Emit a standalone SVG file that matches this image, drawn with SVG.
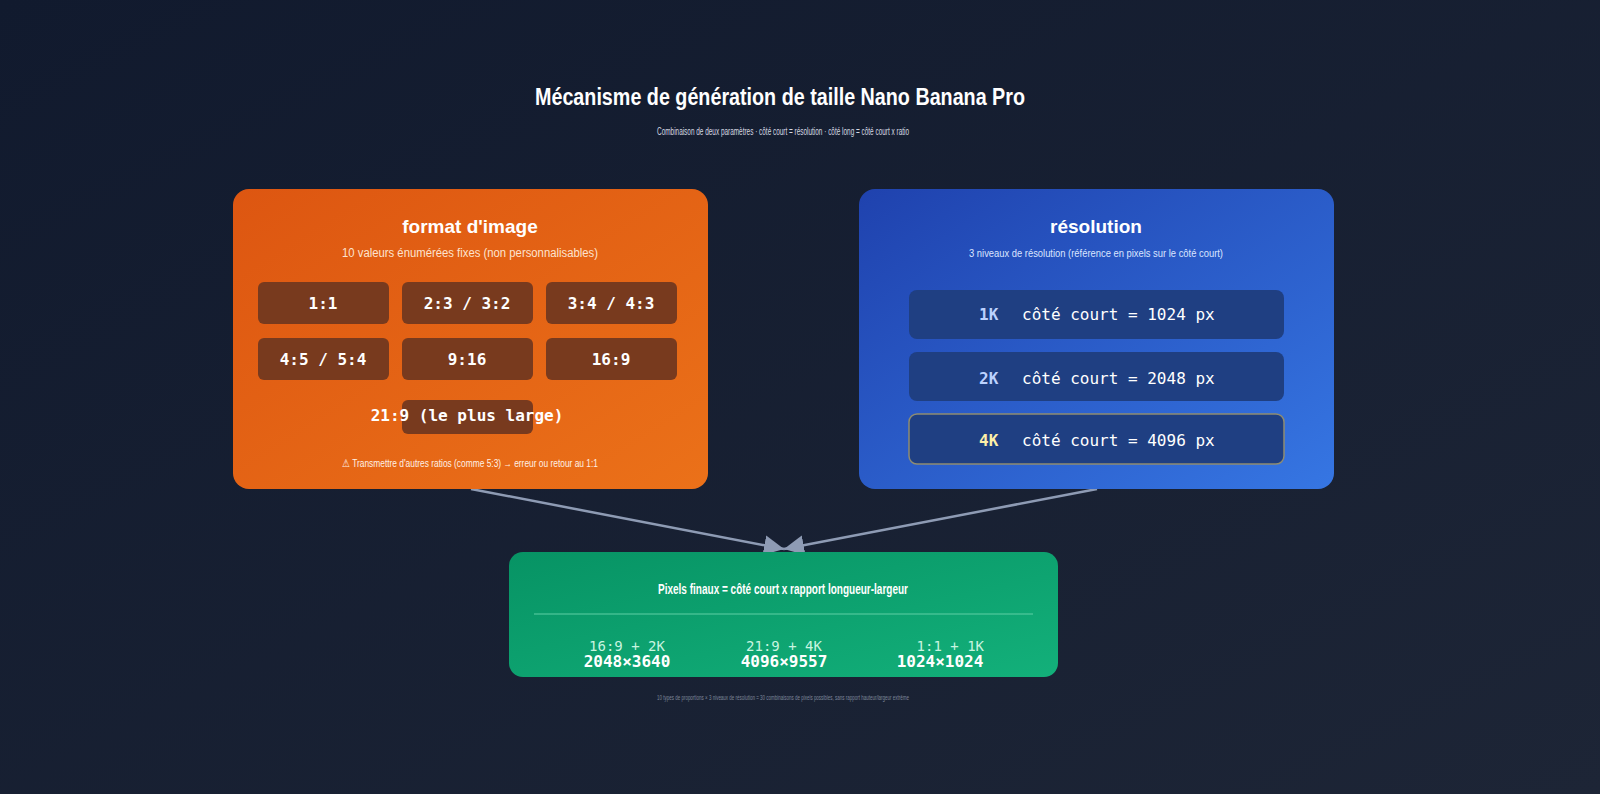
<svg xmlns="http://www.w3.org/2000/svg" width="1600" height="794" viewBox="0 0 1600 794">
<defs>
<linearGradient id="bg" x1="0" y1="0" x2="1" y2="1"><stop offset="0" stop-color="#111a2e"/><stop offset="1" stop-color="#1d2536"/></linearGradient>
<linearGradient id="og" x1="0" y1="0" x2="1" y2="1"><stop offset="0" stop-color="#dd5611"/><stop offset="1" stop-color="#eb7119"/></linearGradient>
<linearGradient id="bl" x1="0" y1="0" x2="1" y2="1"><stop offset="0" stop-color="#1f42ae"/><stop offset="1" stop-color="#3676e3"/></linearGradient>
<linearGradient id="gr" x1="0" y1="0" x2="1" y2="1"><stop offset="0" stop-color="#079364"/><stop offset="1" stop-color="#13b07a"/></linearGradient>
<marker id="ah" viewBox="0 0 10 10" refX="10" refY="5" markerWidth="8" markerHeight="8" orient="auto" markerUnits="strokeWidth"><path d="M0,0 L10,5 L0,10 z" fill="#8e9bb4"/></marker>
<style>
.s{font-family:"Liberation Sans",Arial,sans-serif}
.m{font-family:"DejaVu Sans Mono","Liberation Mono",monospace}
.chip{fill:#783a1e}
.res{fill:#1f3f82}
.ct{fill:#fff;font-size:16px;font-weight:bold;text-anchor:middle}
.rt{fill:#fff;font-size:16px}
.rk{font-size:16px;font-weight:bold}
</style>
</defs>
<rect width="1600" height="794" fill="url(#bg)"/>
<text class="s" x="780" y="105" text-anchor="middle" fill="#fff" font-size="23" font-weight="bold" textLength="490" lengthAdjust="spacingAndGlyphs">Mécanisme de génération de taille Nano Banana Pro</text>
<text class="s" x="783" y="135" text-anchor="middle" fill="#d5d9e2" font-size="10" textLength="252" lengthAdjust="spacingAndGlyphs">Combinaison de deux paramètres · côté court = résolution · côté long = côté court x ratio</text>
<g id="connectors" stroke="#8e9bb4" stroke-width="2.5" fill="none">
<line x1="471" y1="489" x2="784" y2="549" marker-end="url(#ah)"/>
<line x1="1097" y1="489" x2="784" y2="549" marker-end="url(#ah)"/>
</g>
<g id="format">
<rect x="233" y="189" width="475" height="300" rx="16" fill="url(#og)"/>
<text class="s" x="470" y="233" text-anchor="middle" fill="#fff" font-size="19" font-weight="bold">format d'image</text>
<text class="s" x="470" y="257" text-anchor="middle" fill="#fde3cf" font-size="12" textLength="256" lengthAdjust="spacingAndGlyphs">10 valeurs énumérées fixes (non personnalisables)</text>
<rect class="chip" x="258" y="282" width="131" height="42" rx="6"/>
<rect class="chip" x="402" y="282" width="131" height="42" rx="6"/>
<rect class="chip" x="546" y="282" width="131" height="42" rx="6"/>
<rect class="chip" x="258" y="338" width="131" height="42" rx="6"/>
<rect class="chip" x="402" y="338" width="131" height="42" rx="6"/>
<rect class="chip" x="546" y="338" width="131" height="42" rx="6"/>
<rect class="chip" x="402" y="400" width="131" height="34" rx="6"/>
<text class="m ct" x="323" y="309">1:1</text>
<text class="m ct" x="467" y="309">2:3 / 3:2</text>
<text class="m ct" x="611" y="309">3:4 / 4:3</text>
<text class="m ct" x="323" y="365">4:5 / 5:4</text>
<text class="m ct" x="467" y="365">9:16</text>
<text class="m ct" x="611" y="365">16:9</text>
<text class="m ct" x="467" y="421">21:9 (le plus large)</text>
<text class="s" x="470" y="467" text-anchor="middle" fill="#fff1e6" font-size="10.5" textLength="256" lengthAdjust="spacingAndGlyphs">⚠ Transmettre d'autres ratios (comme 5:3) → erreur ou retour au 1:1</text>
</g>
<g id="resolution">
<rect x="859" y="189" width="475" height="300" rx="16" fill="url(#bl)"/>
<text class="s" x="1096" y="233" text-anchor="middle" fill="#fff" font-size="19" font-weight="bold">résolution</text>
<text class="s" x="1096" y="257" text-anchor="middle" fill="#dbe5ff" font-size="11" textLength="254" lengthAdjust="spacingAndGlyphs">3 niveaux de résolution (référence en pixels sur le côté court)</text>
<rect class="res" x="909" y="290" width="375" height="49" rx="8"/>
<rect class="res" x="909" y="352" width="375" height="49" rx="8"/>
<rect class="res" x="909" y="414" width="375" height="50" rx="8" stroke="#8e8c72" stroke-width="1.5"/>
<text class="m rk" x="979" y="320" fill="#bcd2ff">1K</text>
<text class="m rt" x="1022" y="320">côté court = 1024 px</text>
<text class="m rk" x="979" y="384" fill="#bcd2ff">2K</text>
<text class="m rt" x="1022" y="384">côté court = 2048 px</text>
<text class="m rk" x="979" y="446" fill="#fdf0a8">4K</text>
<text class="m rt" x="1022" y="446">côté court = 4096 px</text>
</g>
<g id="result">
<rect x="509" y="552" width="549" height="125" rx="14" fill="url(#gr)"/>
<text class="s" x="783" y="594" text-anchor="middle" fill="#fff" font-size="14" font-weight="bold" textLength="250" lengthAdjust="spacingAndGlyphs">Pixels finaux = côté court x rapport longueur-largeur</text>
<line x1="534" y1="614" x2="1033" y2="614" stroke="#5fcfa5" stroke-width="1"/>
<text class="m" x="627" y="651" text-anchor="middle" fill="#c9f5e0" font-size="14">16:9 + 2K</text>
<text class="m" x="627" y="667" text-anchor="middle" fill="#fff" font-size="16" font-weight="bold">2048×3640</text>
<text class="m" x="784" y="651" text-anchor="middle" fill="#c9f5e0" font-size="14">21:9 + 4K</text>
<text class="m" x="784" y="667" text-anchor="middle" fill="#fff" font-size="16" font-weight="bold">4096×9557</text>
<text class="m" x="984" y="651" text-anchor="end" fill="#c9f5e0" font-size="14">1:1 + 1K</text>
<text class="m" x="940" y="667" text-anchor="middle" fill="#fff" font-size="16" font-weight="bold">1024×1024</text>
</g>
<text class="s" x="783" y="700" text-anchor="middle" fill="#7e879a" font-size="8" textLength="252" lengthAdjust="spacingAndGlyphs">10 types de proportions × 3 niveaux de résolution = 30 combinaisons de pixels possibles, sans rapport hauteur/largeur extrême</text>
</svg>
